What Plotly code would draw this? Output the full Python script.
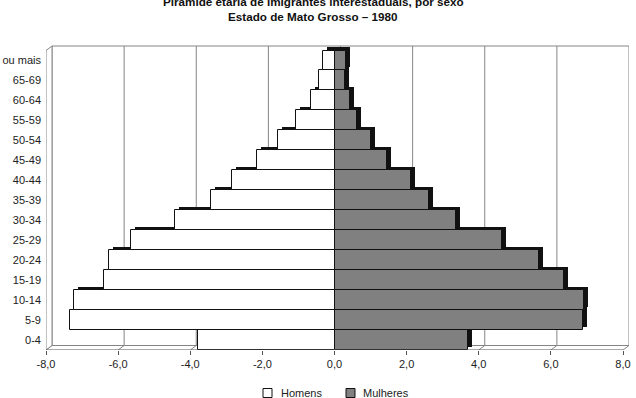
import plotly.graph_objects as go

categorias = ["0-4", "5-9", "10-14", "15-19", "20-24", "25-29", "30-34", "35-39",
              "40-44", "45-49", "50-54", "55-59", "60-64", "65-69", "70 ou mais"]
homens = [3.78, 7.34, 7.22, 6.38, 6.26, 5.64, 4.43, 3.43, 2.85, 2.15, 1.57, 1.06, 0.65, 0.44, 0.33]
mulheres = [3.69, 6.90, 6.93, 6.37, 5.66, 4.64, 3.36, 2.62, 2.13, 1.46, 1.02, 0.63, 0.44, 0.30, 0.31]
x_ticks = [-8, -6, -4, -2, 0, 2, 4, 6, 8]
x_ticktext = ["-8,0", "-6,0", "-4,0", "-2,0", "0,0", "2,0", "4,0", "6,0", "8,0"]
series_names = ["Homens", "Mulheres"]

W, H = 636, 398
ML, MR, MT, MB = 46, 7, 45, 48
px_per_unit = (623 - 46) / 16.0
plot_w = W - ML - MR
plot_h = H - MT - MB
px_per_cat = (350 - 50.5) / 15.0

x_max = -8 + plot_w / px_per_unit
y_max = -0.5 + plot_h / px_per_cat

# 3D offsets (wall depth and bar depth), in data units
wall_dx = 6 / px_per_unit
wall_dy = 4.5 / px_per_cat
bar_dx = 4 / px_per_unit
bar_dy = 3.5 / px_per_cat

pos = list(range(len(categorias)))
FONT = "Liberation Sans, Arial, sans-serif"
GRID = "#858585"
COL_H = "white"
COL_M = "#808080"


def px_x(p):
    return (p - ML) / plot_w


def px_y(p):
    return (H - MB - p) / plot_h


fig = go.Figure()

# depth faces (drawn first, covered by front faces)
fig.add_trace(go.Bar(
    y=[p + bar_dy for p in pos], x=homens, base=[-h + bar_dx for h in homens],
    orientation="h", width=1, marker=dict(color="#111111", line=dict(width=0)),
    showlegend=False, hoverinfo="skip"))
fig.add_trace(go.Bar(
    y=[p + bar_dy for p in pos], x=mulheres, base=[bar_dx] * len(mulheres),
    orientation="h", width=1, marker=dict(color="#111111", line=dict(width=0)),
    showlegend=False, hoverinfo="skip"))

# front faces
fig.add_trace(go.Bar(
    y=pos, x=homens, base=[-h for h in homens], orientation="h", width=1,
    name=series_names[0], showlegend=False,
    marker=dict(color=COL_H, line=dict(color="#111111", width=1))))
fig.add_trace(go.Bar(
    y=pos, x=mulheres, base=[0] * len(mulheres), orientation="h", width=1,
    name=series_names[1], showlegend=False,
    marker=dict(color=COL_M, line=dict(color="#111111", width=1))))

shapes = []
# back wall gridlines + floor diagonals
for t in x_ticks:
    shapes.append(dict(type="line", xref="x", yref="y", layer="below",
                       x0=t + wall_dx, x1=t + wall_dx, y0=-0.5 + wall_dy, y1=14.5 + wall_dy,
                       line=dict(color=GRID, width=1)))
    shapes.append(dict(type="line", xref="x", yref="y", layer="below",
                       x0=t, x1=t + wall_dx, y0=-0.5, y1=-0.5 + wall_dy,
                       line=dict(color=GRID, width=1)))
shapes.append(dict(type="line", xref="x", yref="y", layer="below",
                   x0=-8 + wall_dx, x1=8 + wall_dx, y0=14.5 + wall_dy, y1=14.5 + wall_dy,
                   line=dict(color=GRID, width=1)))
shapes.append(dict(type="line", xref="x", yref="y", layer="below",
                   x0=-8 + wall_dx, x1=8 + wall_dx, y0=-0.5 + wall_dy, y1=-0.5 + wall_dy,
                   line=dict(color=GRID, width=1)))
shapes.append(dict(type="path", xref="x", yref="y", layer="below",
                   path=f"M {-8} {-0.5} L {-8} {14.5} L {-8 + wall_dx} {14.5 + wall_dy} L {-8 + wall_dx} {-0.5 + wall_dy} Z",
                   line=dict(color=GRID, width=1), fillcolor="white"))
shapes.append(dict(type="line", xref="x", yref="y", layer="above",
                   x0=-8, x1=8, y0=-0.5, y1=-0.5, line=dict(color="#555555", width=1)))

# manual legend
legend_items = [(263, 279, series_names[0], COL_H), (346, 361, series_names[1], COL_M)]
annotations = []
for ix, tx, name, col in legend_items:
    shapes.append(dict(type="rect", xref="paper", yref="paper",
                       x0=px_x(ix), x1=px_x(ix + 9), y0=px_y(397.5), y1=px_y(388.5),
                       fillcolor=col, line=dict(color="#111111", width=1)))
    annotations.append(dict(text=name, xref="paper", yref="paper", x=px_x(tx),
                            xanchor="left", y=px_y(393), yanchor="middle", showarrow=False,
                            font=dict(size=11, color="#222222")))

annotations += [
    dict(text="<b>Pirâmide etária de imigrantes interestaduais, por sexo</b>",
         xref="paper", yref="paper", x=px_x(313), xanchor="center",
         y=px_y(1.5), yanchor="middle", showarrow=False,
         font=dict(size=11.7, color="#111111")),
    dict(text="<b>Estado de Mato Grosso – 1980</b>",
         xref="paper", yref="paper", x=px_x(313), xanchor="center",
         y=px_y(16.5), yanchor="middle", showarrow=False,
         font=dict(size=11.7, color="#111111")),
]

fig.update_layout(
    width=W, height=H,
    margin=dict(l=ML, r=MR, t=MT, b=MB, autoexpand=False),
    paper_bgcolor="white", plot_bgcolor="white",
    barmode="overlay", bargap=0,
    font=dict(family=FONT, size=11, color="#222222"),
    shapes=shapes,
    annotations=annotations,
    showlegend=False,
    xaxis=dict(range=[-8, x_max], tickvals=x_ticks, ticktext=x_ticktext,
               showgrid=False, zeroline=False, showline=False,
               ticks="outside", ticklen=4, tickcolor="#555555",
               tickfont=dict(size=11), automargin=False, fixedrange=True),
    yaxis=dict(range=[-0.5, y_max], tickvals=pos, ticktext=categorias,
               showgrid=False, zeroline=False, showline=False, ticks="",
               ticklabelstandoff=4,
               tickfont=dict(size=11), automargin=False, fixedrange=True),
)

fig.write_html("out.html")
